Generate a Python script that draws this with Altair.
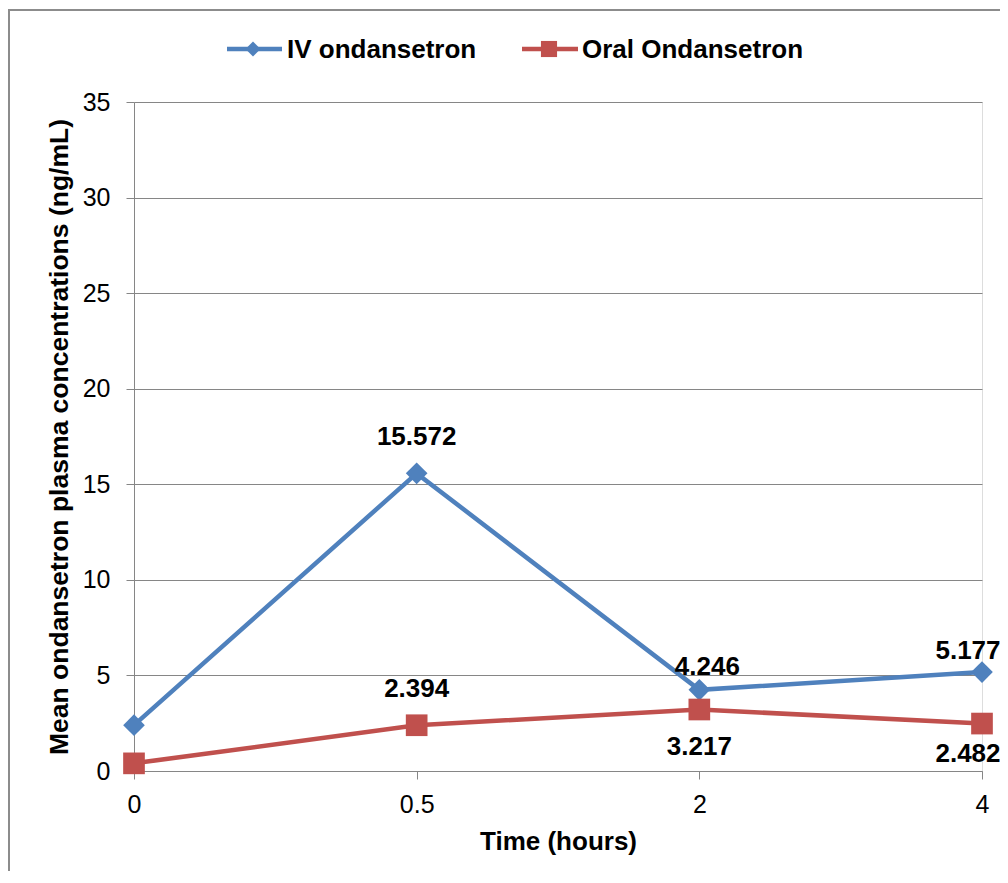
import altair as alt
import pandas as pd

times = ["0", "0.5", "2", "4"]
iv_values = [2.4, 15.572, 4.246, 5.177]
oral_values = [0.4, 2.394, 3.217, 2.482]
iv_labels = ["", "15.572", "4.246", "5.177"]
oral_labels = ["", "2.394", "3.217", "2.482"]
series_names = ["IV ondansetron", "Oral Ondansetron"]
series_colors = ["#4F81BD", "#C0504D"]
y_ticks = [0, 5, 10, 15, 20, 25, 30, 35]

rows = []
for t, v, l in zip(times, iv_values, iv_labels):
    rows.append({"time": t, "value": v, "series": series_names[0], "label": l})
for t, v, l in zip(times, oral_values, oral_labels):
    rows.append({"time": t, "value": v, "series": series_names[1], "label": l})
df = pd.DataFrame(rows)

FONT = "Liberation Sans"
GRID = "#868686"
BOLD_SIZE = 26
TICK_SIZE = 25

x_enc = alt.X("time:O", sort=times,
              scale=alt.Scale(type="point", padding=0, domain=times),
              axis=alt.Axis(title="Time (hours)", labelAngle=0, labelFontSize=TICK_SIZE,
                            labelFont=FONT, labelColor="#000", titleFont=FONT,
                            titleFontSize=BOLD_SIZE, titleFontWeight="bold", titleColor="#000",
                            tickSize=8, tickColor=GRID, domainColor=GRID,
                            labelPadding=13, titlePadding=11, grid=False))
y_enc = alt.Y("value:Q", scale=alt.Scale(domain=[0, 35], nice=False),
              axis=alt.Axis(title="Mean ondansetron plasma concentrations (ng/mL)",
                            values=y_ticks, labelFontSize=TICK_SIZE, labelFont=FONT,
                            labelColor="#000", titleFont=FONT, titleFontSize=26.5,
                            titleFontWeight="bold", titleColor="#000",
                            tickSize=8, tickColor=GRID, domainColor=GRID,
                            gridColor=GRID, grid=True, labelPadding=16, titlePadding=9))
color_enc = alt.Color("series:N", scale=alt.Scale(domain=series_names, range=series_colors),
                      legend=None)
shape_enc = alt.Shape("series:N", scale=alt.Scale(domain=series_names, range=["diamond", "square"]),
                      legend=None)

base = alt.Chart(df)
lines = base.mark_line(strokeWidth=4.5).encode(x=x_enc, y=y_enc, color=color_enc, detail="series:N")
points = base.mark_point(filled=True, size=470, opacity=1).encode(
    x=x_enc, y=y_enc, color=color_enc, shape=shape_enc)

def label_layer(lbls, dy, dx=0):
    return base.mark_text(font=FONT, fontSize=BOLD_SIZE, fontWeight="bold", color="#000",
                          dy=dy, dx=dx, baseline="middle").encode(
        x=alt.X("time:O", sort=times), y="value:Q", text="label:N"
    ).transform_filter(alt.FieldOneOfPredicate(field="label", oneOf=lbls))

label_layers = [
    label_layer(["15.572", "2.394"], -36),
    label_layer(["4.246"], -23, 8),
    label_layer(["5.177"], -21, -14),
    label_layer(["3.217"], 37),
    label_layer(["2.482"], 30, -14),
]

dummy = alt.Chart(pd.DataFrame({"k": [0]}))
border = dummy.mark_rect(fill=None, fillOpacity=0, stroke="#8c8c8c", strokeWidth=2).encode(
    x=alt.value(-125), x2=alt.value(900), y=alt.value(-92), y2=alt.value(800))

legend_layers = []
leg_x = [[93, 148, 119, 153], [388, 444, 415, 448]]
leg_shapes = ["diamond", "square"]
leg_sizes = [225, 260]
for i, name in enumerate(series_names):
    x1, x2, xm, xt = leg_x[i]
    legend_layers.append(dummy.mark_rule(color=series_colors[i], strokeWidth=4.5).encode(
        x=alt.value(x1), x2=alt.value(x2), y=alt.value(-53)))
    legend_layers.append(dummy.mark_point(shape=leg_shapes[i], filled=True, size=leg_sizes[i],
                                          color=series_colors[i], opacity=1).encode(
        x=alt.value(xm), y=alt.value(-53)))
    legend_layers.append(dummy.mark_text(text=name, font=FONT, fontSize=BOLD_SIZE, fontWeight="bold",
                                         align="left", baseline="middle", color="#000").encode(
        x=alt.value(xt), y=alt.value(-52)))

chart = alt.layer(border, lines, points, *label_layers, *legend_layers).properties(
    width=848, height=669,
    autosize=alt.AutoSizeParams(type="none"),
    padding={"left": 126, "top": 94, "right": 18, "bottom": 100},
).configure_view(stroke=None).configure(background="white")

chart.save("out.html", embed_options={"renderer": "svg", "actions": False})
